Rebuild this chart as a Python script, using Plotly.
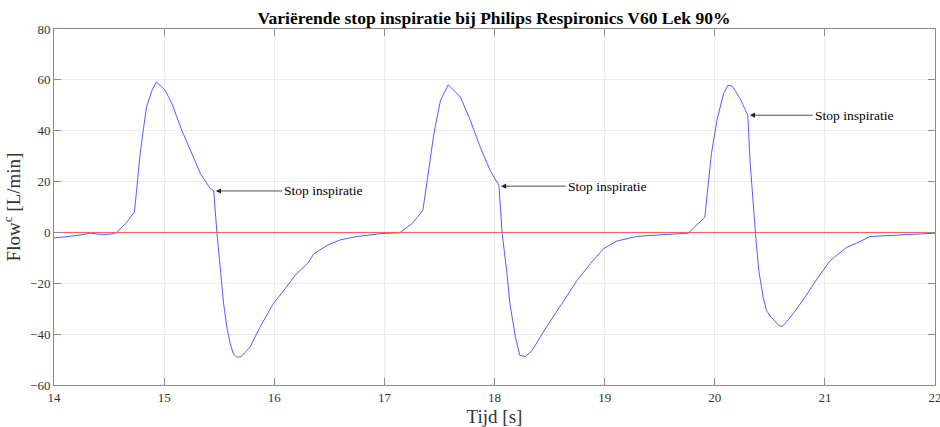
import plotly.graph_objects as go

# Time [s]
tijd = [14.00, 14.21, 14.33, 14.45, 14.54, 14.57, 14.65, 14.71, 14.73, 14.75, 14.78, 14.81,
        14.84, 14.89, 14.93, 15.01, 15.07, 15.16, 15.24, 15.33, 15.42, 15.45, 15.48, 15.51,
        15.54, 15.57, 15.60, 15.63, 15.66, 15.70, 15.78, 15.87, 15.99, 16.11, 16.20, 16.30,
        16.36, 16.48, 16.60, 16.75, 16.96, 17.14, 17.25, 17.35, 17.39, 17.45, 17.51, 17.58,
        17.69, 17.78, 17.87, 17.96, 18.04, 18.07, 18.11, 18.14, 18.19, 18.23, 18.28, 18.34,
        18.47, 18.63, 18.75, 18.87, 18.99, 19.11, 19.29, 19.41, 19.60, 19.76, 19.91, 19.94,
        19.97, 20.02, 20.08, 20.12, 20.16, 20.23, 20.30, 20.32, 20.35, 20.37, 20.40, 20.44,
        20.47, 20.51, 20.53, 20.58, 20.61, 20.65, 20.71, 20.81, 20.93, 21.05, 21.20, 21.29,
        21.41, 21.62, 21.87, 22.00]
# Flow [L/min]
flow = [-2.2, -1.2, -0.3, -0.9, -0.5, 0.0, 3.5, 6.7, 8.0, 16.5, 30.0, 40.0,
        49.3, 55.9, 59.2, 55.9, 50.7, 40.2, 32.3, 23.1, 17.2, 16.5, -0.4, -15.0,
        -28.0, -37.3, -43.8, -47.8, -49.1, -48.8, -45.1, -37.3, -28.1, -21.5, -16.3, -12.3,
        -8.4, -5.1, -2.9, -1.6, -0.5, -0.1, 3.4, 8.7, 20.5, 38.9, 52.0, 58.1,
        53.3, 44.1, 33.6, 24.4, 18.5, -0.5, -15.0, -28.0, -41.2, -48.4, -48.8, -46.5,
        -37.3, -26.8, -18.9, -12.3, -6.4, -3.4, -1.6, -1.2, -0.8, -0.3, 6.0, 17.8,
        31.0, 44.1, 54.6, 57.9, 57.5, 52.6, 46.1, 28.3, 8.7, -0.5, -15.0, -25.5,
        -30.7, -33.3, -34.0, -36.6, -37.0, -35.3, -32.0, -26.1, -18.2, -11.0, -5.8, -4.2,
        -1.6, -1.2, -0.5, -0.3]

zero_x = [14, 22]
zero_y = [0, 0]

# Annotations: arrow head (x, y) and text start x
stop_x = [15.46, 18.05, 20.31]
stop_y = [16.3, 18.2, 46.1]
label_x = [16.07, 18.65, 20.89]
label_text = "Stop inspiratie"

FONT = "Liberation Serif"

fig = go.Figure()
fig.add_trace(go.Scatter(x=tijd, y=flow, mode="lines",
                         line=dict(color="#5a5aff", width=1), showlegend=False))
fig.add_trace(go.Scatter(x=zero_x, y=zero_y, mode="lines",
                         line=dict(color="#ff5555", width=1), showlegend=False))

for sx, sy, lx in zip(stop_x, stop_y, label_x):
    fig.add_annotation(x=sx, y=sy, ax=lx, ay=sy, axref="x", ayref="y",
                       xref="x", yref="y", text=label_text, xanchor="left",
                       showarrow=True, arrowhead=2, arrowsize=1.3, arrowwidth=0.8,
                       arrowcolor="#222222", standoff=1,
                       font=dict(family=FONT, size=13.5, color="#000000"))

axis_common = dict(showgrid=True, gridcolor="#ebebeb", gridwidth=1,
                   showline=True, linecolor="#8a8a8a", linewidth=1, mirror="allticks",
                   ticks="inside", ticklen=7, tickcolor="#8a8a8a", zeroline=False,
                   ticklabeloverflow="allow", automargin=False,
                   tickfont=dict(family=FONT, size=13, color="#333333"))

fig.update_xaxes(range=[14, 22], dtick=1, tick0=14,
                 title=dict(text="Tijd [s]", font=dict(family=FONT, size=19, color="#333333"), standoff=8),
                 **axis_common)
fig.update_yaxes(range=[-60, 80], dtick=20, tick0=-60,
                 title=dict(text="Flow<sup>c</sup> [L/min]", font=dict(family=FONT, size=19, color="#333333"), standoff=8),
                 **axis_common)

fig.update_layout(
    width=940, height=427,
    margin=dict(l=54, r=5, t=29, b=42, autoexpand=False),
    paper_bgcolor="white", plot_bgcolor="white",
    title=dict(text="<b>Variërende stop inspiratie bij Philips Respironics V60 Lek 90%</b>",
               x=0.5255, xanchor="center", y=0.958, yanchor="middle",
               font=dict(family=FONT, size=17.5, color="#000000")),
)

fig.write_html("out.html")
